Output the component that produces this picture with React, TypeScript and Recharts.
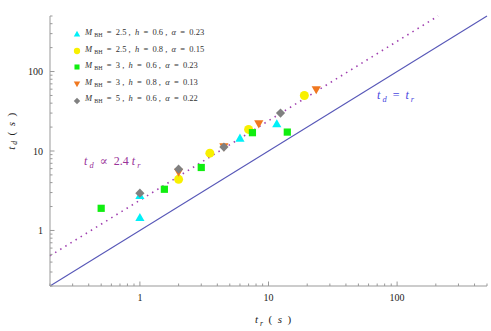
import React from 'react';
import { ScatterChart, Scatter, XAxis, YAxis, ReferenceLine } from 'recharts';

// (t_r, t_d in seconds)
const cyanTr = [1, 1, 6.0, 11.6];
const cyanTd = [1.45, 2.75, 14.5, 22];
const yellowTr = [2, 3.5, 7, 19];
const yellowTd = [4.4, 9.4, 18.7, 50];
const greenTr = [0.5, 1.55, 3.0, 7.5, 14];
const greenTd = [1.9, 3.3, 6.2, 17, 17.3];
const orangeTr = [2, 4.5, 8.4, 23.5];
const orangeTd = [5.4, 11.3, 22, 59];
const grayTr = [1, 2, 4.5, 12.4];
const grayTd = [2.95, 5.9, 11.2, 30];

const massBH = ['2.5', '2.5', '3', '3', '5'];
const hValues = ['0.6', '0.8', '0.6', '0.8', '0.6'];
const alphaValues = ['0.23', '0.15', '0.23', '0.13', '0.22'];

const fitFactor = 2.4;
const domainMin = 0.2;
const domainMax = 500;

const majorTicks = [1, 10, 100];
const allTicks = [
  0.2, 0.3, 0.4, 0.5, 0.6, 0.7, 0.8, 0.9,
  1, 2, 3, 4, 5, 6, 7, 8, 9,
  10, 20, 30, 40, 50, 60, 70, 80, 90,
  100, 200, 300, 400, 500,
];

const COLORS = ['#00f0f8', '#f8f000', '#10ee10', '#f07820', '#808080'];
const KINDS = ['triangle', 'circle', 'square', 'down', 'diamond'];
const FRAME = '#999999';
const FONT = '"Liberation Serif", "DejaVu Serif", serif';

const toPoints = (xs: number[], ys: number[]) => xs.map((x, i) => ({ x, y: ys[i] }));
const seriesData = [
  toPoints(cyanTr, cyanTd),
  toPoints(yellowTr, yellowTd),
  toPoints(greenTr, greenTd),
  toPoints(orangeTr, orangeTd),
  toPoints(grayTr, grayTd),
];

function Marker({ kind, cx, cy, color, s = 1 }: any) {
  if (kind === 'circle') return <circle cx={cx} cy={cy} r={4.5 * s} fill={color} />;
  if (kind === 'square') return <rect x={cx - 3.6 * s} y={cy - 3.6 * s} width={7.2 * s} height={7.2 * s} fill={color} />;
  const r = 4.6 * s;
  if (kind === 'triangle') {
    return <polygon points={`${cx},${cy - r} ${cx + r},${cy + r * 0.75} ${cx - r},${cy + r * 0.75}`} fill={color} />;
  }
  if (kind === 'down') {
    return <polygon points={`${cx},${cy + r} ${cx + r},${cy - r * 0.75} ${cx - r},${cy - r * 0.75}`} fill={color} />;
  }
  return <polygon points={`${cx},${cy - r} ${cx + r},${cy} ${cx},${cy + r} ${cx - r},${cy}`} fill={color} />;
}

const tickLen = (v: number) => (majorTicks.includes(v) ? 4.5 : 2.5);

function BottomTick({ x, y, payload }: any) {
  const v = payload.value;
  return (
    <g>
      <line x1={x} y1={y} x2={x} y2={y - tickLen(v)} stroke={FRAME} />
      {majorTicks.includes(v) && (
        <text x={x} y={y + 15} textAnchor="middle" fontSize={10} fontFamily={FONT} fill="#222">{v}</text>
      )}
    </g>
  );
}
function TopTick({ x, y, payload }: any) {
  return <line x1={x} y1={y} x2={x} y2={y + tickLen(payload.value)} stroke={FRAME} />;
}
function LeftTick({ x, y, payload }: any) {
  const v = payload.value;
  return (
    <g>
      <line x1={x} y1={y} x2={x + tickLen(v)} y2={y} stroke={FRAME} />
      {majorTicks.includes(v) && (
        <text x={x - 7} y={y + 3.5} textAnchor="end" fontSize={10} fontFamily={FONT} fill="#222">{v}</text>
      )}
    </g>
  );
}
function RightTick({ x, y, payload }: any) {
  return <line x1={x} y1={y} x2={x - tickLen(payload.value)} y2={y} stroke={FRAME} />;
}

const it = { fontStyle: 'italic' as const };
const sub = { fontSize: '0.7em', verticalAlign: '-0.35em' };

export default function App() {
  return (
    <div style={{ position: 'absolute', left: 0, top: 0, width: 491, height: 331, background: '#fff', fontFamily: FONT }}>
      <ScatterChart width={491} height={331} margin={{ top: 16, right: 4, left: 0, bottom: 0 }}>
        <XAxis
          dataKey="x" type="number" scale="log" domain={[domainMin, domainMax]} allowDataOverflow
          ticks={allTicks} interval={0} tickSize={0} tickMargin={0} height={45}
          tick={<BottomTick />} tickLine={false} axisLine={{ stroke: FRAME }}
        />
        <XAxis
          xAxisId="top" orientation="top" dataKey="x" type="number" scale="log" domain={[domainMin, domainMax]}
          allowDataOverflow ticks={allTicks} interval={0} tickSize={0} tickMargin={0} height={0}
          tick={<TopTick />} tickLine={false} axisLine={{ stroke: FRAME }}
        />
        <YAxis
          dataKey="y" type="number" scale="log" domain={[domainMin, domainMax]} allowDataOverflow
          ticks={allTicks} interval={0} tickSize={0} tickMargin={0} width={50}
          tick={<LeftTick />} tickLine={false} axisLine={{ stroke: FRAME }}
        />
        <YAxis
          yAxisId="right" orientation="right" dataKey="y" type="number" scale="log" domain={[domainMin, domainMax]}
          allowDataOverflow ticks={allTicks} interval={0} tickSize={0} tickMargin={0} width={0}
          tick={<RightTick />} tickLine={false} axisLine={{ stroke: FRAME }}
        />
        <ReferenceLine
          segment={[{ x: domainMin, y: domainMin }, { x: domainMax, y: domainMax }]}
          stroke="#5858b8" strokeWidth={1.1}
        />
        <ReferenceLine
          segment={[{ x: domainMin, y: domainMin * fitFactor }, { x: domainMax / fitFactor, y: domainMax }]}
          stroke="#a040b0" strokeWidth={1.6} strokeDasharray="1.5 4.5"
        />
        {seriesData.map((d, i) => (
          <Scatter
            key={i}
            data={d}
            isAnimationActive={false}
            shape={(p: any) => <Marker kind={KINDS[i]} cx={p.cx} cy={p.cy} color={COLORS[i]} />}
          />
        ))}
      </ScatterChart>

      {/* legend */}
      <div style={{ position: 'absolute', left: 70, top: 26, fontSize: 8.5, color: '#333', lineHeight: '13.5px' }}>
        {massBH.map((m, i) => (
          <div key={i} style={{ display: 'flex', alignItems: 'center', whiteSpace: 'pre' }}>
            <svg width={14} height={12} style={{ marginRight: 1 }}>
              <Marker kind={KINDS[i]} cx={7} cy={6} color={COLORS[i]} s={0.7} />
            </svg>
            <span>
              <span style={it}>M</span> <span style={sub}>BH</span>{'  =  '}{m}{' ,  '}
              <span style={it}>h</span>{'  =  '}{hValues[i]}{' ,  '}
              <span style={it}>α</span>{'  =  '}{alphaValues[i]}
            </span>
          </div>
        ))}
      </div>

      {/* annotations */}
      <div style={{ position: 'absolute', left: 377, top: 88, fontSize: 12, color: '#4848e0', whiteSpace: 'pre' }}>
        <span style={it}>t</span><span style={{ ...it, ...sub }}> d</span>{'  =  '}<span style={it}>t</span><span style={{ ...it, ...sub }}> r</span>
      </div>
      <div style={{ position: 'absolute', left: 84, top: 154, fontSize: 12, color: '#993399', whiteSpace: 'pre' }}>
        <span style={it}>t</span><span style={{ ...it, ...sub }}> d</span>{'  ∝  2.4 '}<span style={it}>t</span><span style={{ ...it, ...sub }}> r</span>
      </div>

      {/* axis titles */}
      <div style={{ position: 'absolute', left: 255, top: 313, fontSize: 11, color: '#222', whiteSpace: 'pre' }}>
        <span style={it}>t</span><span style={{ ...it, ...sub }}> r</span>{'  (  '}<span style={it}>s</span>{'  )'}
      </div>
      <div
        style={{
          position: 'absolute', left: -10, top: 124, width: 44, fontSize: 11, color: '#222', whiteSpace: 'pre',
          transform: 'rotate(-90deg)', textAlign: 'center',
        }}
      >
        <span style={it}>t</span><span style={{ ...it, ...sub }}> d</span>{'  (  '}<span style={it}>s</span>{'  )'}
      </div>
    </div>
  );
}
